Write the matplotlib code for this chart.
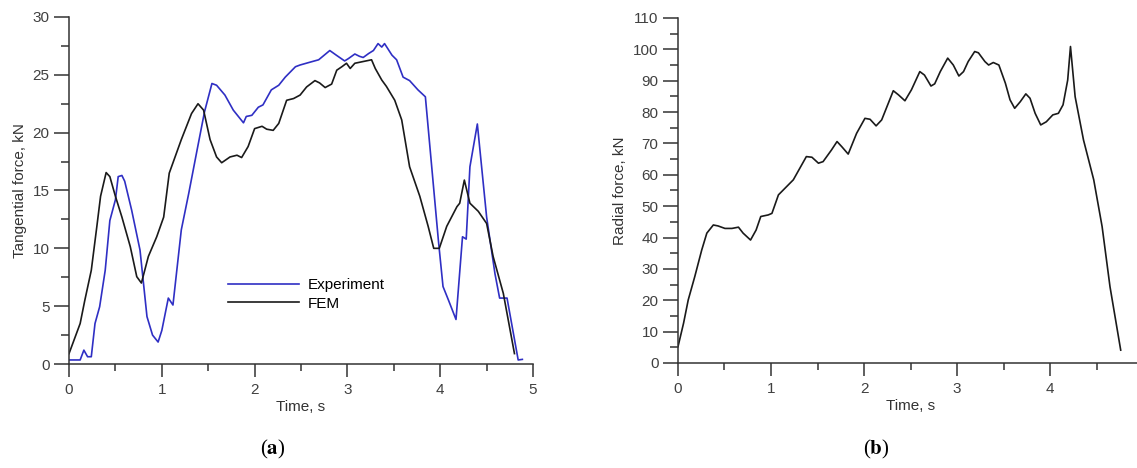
import numpy as np
import matplotlib
matplotlib.use('Agg')
import matplotlib.pyplot as plt
from matplotlib.ticker import MultipleLocator

# (a) tangential force, experiment
t_exp = [0.0, 0.12, 0.16, 0.2, 0.24, 0.28, 0.33, 0.39, 0.44, 0.50, 0.53, 0.57, 0.60, 0.675,
         0.765, 0.84, 0.9, 0.96, 1.0, 1.07, 1.12, 1.21, 1.29, 1.38, 1.46, 1.54, 1.59, 1.68,
         1.77, 1.88, 1.91, 1.97, 2.04, 2.09, 2.18, 2.26, 2.33, 2.44, 2.49, 2.60, 2.69, 2.81,
         2.88, 2.97, 3.01, 3.08, 3.13, 3.17, 3.23, 3.28, 3.33, 3.37, 3.40, 3.48, 3.53, 3.60,
         3.67, 3.76, 3.84, 3.98, 4.03, 4.09, 4.17, 4.24, 4.28, 4.32, 4.40, 4.50, 4.59, 4.64,
         4.72, 4.84, 4.885]
f_exp = [0.35, 0.35, 1.2, 0.63, 0.63, 3.5, 4.95, 8.1, 12.4, 14.2, 16.2, 16.3, 15.8, 13.3,
         9.85, 4.1, 2.5, 1.9, 2.9, 5.7, 5.1, 11.6, 14.75, 18.5, 21.8, 24.25, 24.1, 23.25,
         21.95, 20.85, 21.4, 21.5, 22.2, 22.4, 23.7, 24.1, 24.8, 25.7, 25.85, 26.1, 26.3, 27.1,
         26.7, 26.2, 26.4, 26.8, 26.6, 26.5, 26.85, 27.1, 27.7, 27.4, 27.7, 26.7, 26.3, 24.8,
         24.5, 23.7, 23.1, 10.7, 6.7, 5.5, 3.85, 11.0, 10.8, 17.05, 20.75, 12.7, 7.8, 5.7,
         5.7, 0.35, 0.4]

# (a) tangential force, FEM
t_fem = [0.0, 0.12, 0.17, 0.24, 0.30, 0.34, 0.40, 0.44, 0.50, 0.57, 0.66, 0.73, 0.78, 0.855,
         0.945, 1.02, 1.08, 1.21, 1.32, 1.39, 1.45, 1.52, 1.59, 1.645, 1.735, 1.81, 1.86, 1.93,
         2.0, 2.08, 2.13, 2.20, 2.26, 2.345, 2.42, 2.49, 2.56, 2.65, 2.70, 2.76, 2.83, 2.885,
         2.94, 2.99, 3.03, 3.08, 3.17, 3.26, 3.30, 3.37, 3.42, 3.51, 3.585, 3.67, 3.78, 3.87,
         3.93, 3.99, 4.07, 4.18, 4.21, 4.26, 4.32, 4.41, 4.50, 4.57, 4.68, 4.80]
f_fem = [0.9, 3.5, 5.5, 8.1, 11.9, 14.5, 16.55, 16.2, 14.5, 12.7, 10.15, 7.55, 7.0, 9.3,
         11.0, 12.7, 16.5, 19.4, 21.65, 22.5, 21.95, 19.4, 17.9, 17.4, 17.9, 18.05, 17.85, 18.8,
         20.35, 20.55, 20.3, 20.2, 20.8, 22.8, 22.95, 23.25, 23.95, 24.5, 24.3, 23.9, 24.2, 25.4,
         25.7, 26.0, 25.55, 26.0, 26.15, 26.3, 25.55, 24.55, 24.0, 22.8, 21.1, 17.05, 14.5, 11.9,
         10.0, 10.0, 11.9, 13.6, 13.9, 15.9, 13.9, 13.2, 12.15, 9.3, 6.1, 0.9]

# (b) radial force
t_rad = [0.0, 0.06, 0.11, 0.18, 0.255, 0.31, 0.38, 0.43, 0.505, 0.58, 0.65, 0.70, 0.78, 0.84,
         0.89, 0.97, 1.01, 1.08, 1.15, 1.24, 1.31, 1.38, 1.44, 1.51, 1.56, 1.65, 1.71, 1.76,
         1.83, 1.92, 2.01, 2.065, 2.13, 2.19, 2.315, 2.37, 2.44, 2.51, 2.60, 2.65, 2.72, 2.76,
         2.82, 2.90, 2.96, 3.02, 3.07, 3.12, 3.19, 3.23, 3.30, 3.34, 3.39, 3.45, 3.52, 3.57,
         3.62, 3.68, 3.74, 3.785, 3.84, 3.90, 3.96, 4.03, 4.09, 4.14, 4.19, 4.22, 4.27, 4.36,
         4.47, 4.56, 4.645, 4.76]
f_rad = [5.2, 12.7, 20.1, 27.5, 36.0, 41.4, 44.0, 43.7, 42.9, 42.9, 43.3, 41.4, 39.2, 42.4,
         46.7, 47.2, 47.7, 53.6, 55.7, 58.4, 62.1, 65.8, 65.6, 63.7, 64.2, 67.9, 70.6, 69.0,
         66.6, 73.2, 78.0, 77.7, 75.6, 77.5, 86.8, 85.5, 83.6, 87.1, 92.9, 91.8, 88.3, 89.0,
         92.9, 97.2, 95.0, 91.5, 92.9, 96.1, 99.3, 98.9, 96.1, 95.0, 95.8, 95.0, 89.2, 83.9,
         81.2, 83.3, 85.8, 84.4, 79.6, 75.9, 76.9, 79.1, 79.6, 82.3, 90.2, 100.9, 84.9, 71.1,
         58.4, 43.5, 24.3, 4.1]

plt.rcParams['font.family'] = ['Liberation Sans', 'DejaVu Sans']
plt.rcParams['mathtext.fontset'] = 'stix'

fig = plt.figure(figsize=(11.37, 4.68), dpi=100)
ax1 = fig.add_axes([0.0607, 0.2222, 0.4081, 0.7415])
ax2 = fig.add_axes([0.5963, 0.2244, 0.4090, 0.7372])

ax1.plot(t_exp, f_exp, color='#2f2fc4', lw=1.2, label='Experiment')
ax1.plot(t_fem, f_fem, color='#1a1a1a', lw=1.2, label='FEM')
ax2.plot(t_rad, f_rad, color='#1a1a1a', lw=1.2)


def style(ax, ymax, ymajor, yminor):
    ax.set_xlim(0, 5)
    ax.set_ylim(0, ymax)
    ax.xaxis.set_major_locator(MultipleLocator(1))
    ax.xaxis.set_minor_locator(MultipleLocator(0.5))
    ax.yaxis.set_major_locator(MultipleLocator(ymajor))
    ax.yaxis.set_minor_locator(MultipleLocator(yminor))
    for s in ['top', 'right']:
        ax.spines[s].set_visible(False)
    for s in ['left', 'bottom']:
        ax.spines[s].set_color('#333333')
        ax.spines[s].set_linewidth(1.1)
    ax.tick_params(axis='both', which='both', direction='out', colors='#333333',
                   width=1.1, labelsize=11, labelcolor='#404040')
    ax.tick_params(axis='y', which='major', length=11, pad=3)
    ax.tick_params(axis='y', which='minor', length=6)
    ax.tick_params(axis='x', which='major', length=9.5, pad=4)
    ax.tick_params(axis='x', which='minor', length=5)
    ax.set_xlabel('Time, s', fontsize=11, color='#333333', labelpad=2)


style(ax1, 30, 5, 2.5)
style(ax2, 110, 10, 5)
ax1.set_ylabel('Tangential force, kN', fontsize=11, color='#333333', labelpad=4)
ax2.set_ylabel('Radial force, kN', fontsize=11, color='#333333', labelpad=4)

ax1.legend(loc='upper left', bbox_to_anchor=(0.33, 0.265), frameon=False, fontsize=11,
           handlelength=4.6, handletextpad=0.6, labelspacing=0.3, borderaxespad=0)

fig.text(0.240, 0.040, r'($\mathbf{a}$)', fontsize=15, family='Liberation Serif',
         ha='center', va='center')
fig.text(0.771, 0.040, r'($\mathbf{b}$)', fontsize=15, family='Liberation Serif',
         ha='center', va='center')

fig.savefig('out.png', dpi=100)
